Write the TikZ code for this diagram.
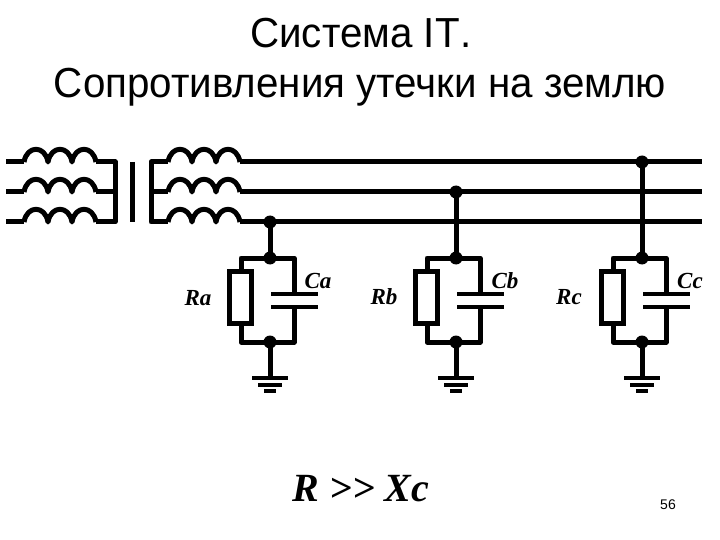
\documentclass[tikz,border=0pt]{standalone}
\usepackage{fontspec}
\setmainfont{Liberation Sans}
\newfontfamily\serif{Liberation Serif}
\tikzset{
    wire/.style={line width=5pt, line join=round},
    plate/.style={line width=4.4pt},
    dot/.style={shape=circle, fill=black, inner sep=0pt, minimum size=13pt},
    res/.style={shape=rectangle, draw, line width=5pt, fill=white, inner sep=0pt, minimum width=22pt, minimum height=52pt},
    lbl/.style={font=\serif\bfseries\itshape\fontsize{23}{23}\selectfont, anchor=center},
    title/.style={font=\fontsize{42}{42}\selectfont, anchor=base, xscale=0.96, transform shape},
    coil/.pic={
        \coordinate (-in) at (0,0);
        \coordinate (-out) at (72,0);
        \draw[wire] (0,0) .. controls (3,-17) and (21,-17) .. (24,0)
            .. controls (27,-17) and (45,-17) .. (48,0)
            .. controls (51,-17) and (69,-17) .. (72,0);
    }
}
\begin{document}
\begin{tikzpicture}[x=1pt, y=-1pt]
    \useasboundingbox (0,0) rectangle (720,540);

    \node[title] (t1) at (361,48) {Система IT\kern1pt.};
    \node[title] (t2) at (360,98) {Сопротивления утечки на землю};

    % transformer
    \pic (p1) at (24,162) {coil};
    \pic (p2) at (24,192) {coil};
    \pic (p3) at (24,222) {coil};
    \pic (s1) at (168,162) {coil};
    \pic (s2) at (168,192) {coil};
    \pic (s3) at (168,222) {coil};

    \coordinate (w1) at (6,162);
    \coordinate (w2) at (6,192);
    \coordinate (w3) at (6,222);
    \coordinate (n1) at (115,162);
    \coordinate (n2) at (115,192);
    \coordinate (n3) at (115,222);
    \coordinate (m1) at (151,162);
    \coordinate (m2) at (151,192);
    \coordinate (m3) at (151,222);
    \coordinate (k1) at (132,162);
    \coordinate (k2) at (132,222);
    \coordinate (e1) at (702,162);
    \coordinate (e2) at (702,192);
    \coordinate (e3) at (702,222);

    \draw[wire] (w1) -- (p1-in);
    \draw[wire] (w2) -- (p2-in);
    \draw[wire] (w3) -- (p3-in);
    \draw[wire] (p1-out) -- (n1) -- (n3) -- (p3-out);
    \draw[wire] (p2-out) -- (n2);
    \draw[wire] (k1) -- (k2);
    \draw[wire] (s1-in) -- (m1) -- (m3) -- (s3-in);
    \draw[wire] (m2) -- (s2-in);
    \draw[wire] (s1-out) -- (e1);
    \draw[wire] (s2-out) -- (e2);
    \draw[wire] (s3-out) -- (e3);

    % branch a
    \node[dot] (a0) at (270,222) {};
    \node[dot] (a1) at (270,258) {};
    \node[dot] (a2) at (270,342) {};
    \coordinate (a3) at (294,258);
    \coordinate (a4) at (294,342);
    \coordinate (a5) at (294,294);
    \coordinate (a6) at (294,307);
    \coordinate (a7) at (241,258);
    \coordinate (a8) at (241,342);
    \coordinate (a9) at (270,378);
    \draw[wire] (a0.center) -- (a1.center) -- (a3) -- (a5);
    \draw[wire] (a1.center) -- (a7) -- (a8) -- (a2.center) -- (a4) -- (a6);
    \draw[wire] (a2.center) -- (a9);
    \node[res] (Ra) at (240,297) {};
    \draw[plate] (271,294) -- (318,294);
    \draw[plate] (271,307) -- (318,307);
    \draw[plate] (252,378) -- (288,378);
    \draw[plate] (258,385) -- (282,385);
    \draw[plate] (264,391) -- (276,391);
    \node[lbl] (la) at (198,298) {Ra};
    \node[lbl] (ca) at (318,281) {Ca};

    % branch b
    \node[dot] (b0) at (456,192) {};
    \node[dot] (b1) at (456,258) {};
    \node[dot] (b2) at (456,342) {};
    \coordinate (b3) at (480,258);
    \coordinate (b4) at (480,342);
    \coordinate (b5) at (480,294);
    \coordinate (b6) at (480,307);
    \coordinate (b7) at (427,258);
    \coordinate (b8) at (427,342);
    \coordinate (b9) at (456,378);
    \draw[wire] (b0.center) -- (b1.center) -- (b3) -- (b5);
    \draw[wire] (b1.center) -- (b7) -- (b8) -- (b2.center) -- (b4) -- (b6);
    \draw[wire] (b2.center) -- (b9);
    \node[res] (Rb) at (426,297) {};
    \draw[plate] (457,294) -- (504,294);
    \draw[plate] (457,307) -- (504,307);
    \draw[plate] (438,378) -- (474,378);
    \draw[plate] (444,385) -- (468,385);
    \draw[plate] (450,391) -- (462,391);
    \node[lbl] (lb) at (384,297) {Rb};
    \node[lbl] (cb) at (505,281) {Cb};

    % branch c
    \node[dot] (c0) at (642,162) {};
    \node[dot] (c1) at (642,258) {};
    \node[dot] (c2) at (642,342) {};
    \coordinate (c3) at (666,258);
    \coordinate (c4) at (666,342);
    \coordinate (c5) at (666,294);
    \coordinate (c6) at (666,307);
    \coordinate (c7) at (613,258);
    \coordinate (c8) at (613,342);
    \coordinate (c9) at (642,378);
    \draw[wire] (c0.center) -- (c1.center) -- (c3) -- (c5);
    \draw[wire] (c1.center) -- (c7) -- (c8) -- (c2.center) -- (c4) -- (c6);
    \draw[wire] (c2.center) -- (c9);
    \node[res] (Rc) at (612,297) {};
    \draw[plate] (643,294) -- (690,294);
    \draw[plate] (643,307) -- (690,307);
    \draw[plate] (624,378) -- (660,378);
    \draw[plate] (630,385) -- (654,385);
    \draw[plate] (636,391) -- (648,391);
    \node[lbl] (lc) at (569,297) {Rc};
    \node[lbl] (cc) at (690,281) {Cc};

    \node[font=\serif\bfseries\itshape\fontsize{40}{40}\selectfont] (rel) at (361,489) {R >> Xc};
    \node[font=\fontsize{14}{14}\selectfont] (num) at (668,505) {56};
\end{tikzpicture}
\end{document}
